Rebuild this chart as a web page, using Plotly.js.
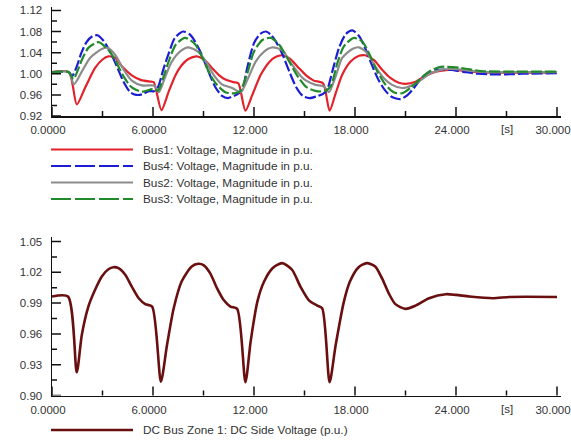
<!DOCTYPE html>
<html>
<head>
<meta charset="utf-8">
<script src="https://cdn.plot.ly/plotly-3.0.1.min.js"></script>
<style>html,body{margin:0;padding:0;background:#fff;}#chart{width:571px;height:442px;}</style>
</head>
<body>
<div id="chart"></div>
<script>
// ---------- data ----------
const xTickVals = [0, 6, 12, 18, 24, 30];
const xTickText = ['0.0000', '6.0000', '12.000', '18.000', '24.000', '30.000'];
const xMinorVals = [3, 9, 15, 21, 27];
const unitLabel = '[s]';
const yTopTicks = [0.92, 0.96, 1.00, 1.04, 1.08, 1.12];
const yTopMinor = [0.94, 0.98, 1.02, 1.06, 1.10];
const yBotTicks = [0.90, 0.93, 0.96, 0.99, 1.02, 1.05];
const yBotMinor = [0.915, 0.945, 0.975, 1.005, 1.035];

const namesTop = ['Bus1: Voltage, Magnitude in p.u.', 'Bus4: Voltage, Magnitude in p.u.',
                  'Bus2: Voltage, Magnitude in p.u.', 'Bus3: Voltage, Magnitude in p.u.'];
const nameDC = 'DC Bus Zone 1: DC Side Voltage (p.u.)';

const tBus1 = [0,1.0,1.47,1.96,2.56,3.0,3.35,3.75,4.15,4.74,5.3,5.9,6.05,6.5,6.93,7.35,7.7,8.1,8.6,9.1,9.5,9.9,10.3,10.8,11.07,11.49,11.9,12.4,12.9,13.3,13.7,14.15,14.6,15.06,15.55,16.1,16.49,16.85,17.24,17.74,18.24,18.6,19.13,19.6,20.1,20.6,21.0,21.6,22.2,22.8,23.4,23.9,24.9,25.9,27.5,30];
const vBus1 = [1.003,1.003,0.942,0.973,1.011,1.027,1.033,1.030,1.014,0.997,0.988,0.985,0.984,0.931,0.966,0.998,1.016,1.028,1.033,1.025,1.011,0.998,0.989,0.984,0.982,0.930,0.960,0.998,1.022,1.032,1.035,1.028,1.013,0.998,0.987,0.982,0.930,0.963,0.998,1.023,1.034,1.035,1.026,1.008,0.992,0.983,0.981,0.985,0.996,1.004,1.007,1.0075,1.004,1.002,1.002,1.002];

const tBus4 = [0,1.0,1.2,1.45,1.75,2.05,2.4,2.7,3.05,3.45,3.85,4.25,4.65,5.0,5.35,5.75,6.05,6.3,6.6,6.95,7.3,7.8,8.2,8.5,8.9,9.3,9.7,10.1,10.45,10.8,11.05,11.3,11.6,12.0,12.35,12.7,13.0,13.3,13.7,14.1,14.5,14.9,15.3,15.7,16.1,16.35,16.65,17.05,17.45,17.85,18.25,18.65,19.0,19.4,19.8,20.2,20.7,21.1,21.5,21.9,22.3,22.8,23.3,24.0,24.6,25.3,26.0,27.0,28.0,30];
const vBus4 = [1.003,1.003,0.996,1.012,1.040,1.060,1.071,1.073,1.063,1.042,1.014,0.985,0.965,0.960,0.961,0.967,0.967,0.975,1.007,1.040,1.068,1.080,1.074,1.061,1.036,1.004,0.975,0.958,0.954,0.958,0.962,0.969,1.012,1.058,1.075,1.080,1.074,1.061,1.036,1.004,0.975,0.958,0.954,0.957,0.962,0.970,1.004,1.049,1.075,1.082,1.071,1.045,1.017,0.988,0.968,0.956,0.952,0.959,0.973,0.990,1.001,1.007,1.008,1.006,1.003,1.000,0.999,0.999,1.000,1.001];

const tBus2 = [0,1.0,1.3,1.77,2.26,2.96,3.3,3.75,4.25,4.74,5.34,5.93,6.1,6.35,6.7,7.1,7.6,8.1,8.7,9.2,9.6,10.1,10.7,11.2,11.6,12.1,12.6,13.1,13.7,14.2,14.8,15.1,15.65,16.15,16.45,16.85,17.24,17.84,18.24,18.73,19.2,19.7,20.2,20.8,21.4,21.9,22.5,23.1,23.6,24.3,25.0,26,27.5,30];
const vBus2 = [1.003,1.003,0.980,1.004,1.030,1.047,1.049,1.036,1.008,0.987,0.978,0.978,0.977,0.965,0.992,1.022,1.042,1.050,1.041,1.020,0.998,0.980,0.973,0.965,0.988,1.023,1.042,1.050,1.044,1.020,0.995,0.987,0.979,0.976,0.965,0.995,1.030,1.047,1.050,1.039,1.014,0.992,0.979,0.973,0.978,0.988,1.001,1.0075,1.009,1.008,1.005,1.003,1.003,1.003];

const tBus3 = [0,1.0,1.27,1.5,1.77,2.16,2.76,3.35,3.75,4.25,4.74,5.34,5.93,6.05,6.3,6.6,6.95,7.35,7.9,8.5,9.0,9.4,9.8,10.3,10.8,11.15,11.6,12.0,12.5,13.0,13.5,13.97,14.6,15.1,15.65,16.2,16.55,16.95,17.34,17.94,18.43,18.83,19.33,19.82,20.3,20.8,21.3,21.8,22.4,23.1,24.3,25.5,27.5,30];
const vBus3 = [1.003,1.003,0.990,1.004,1.026,1.049,1.060,1.045,1.026,0.995,0.974,0.966,0.971,0.971,0.968,0.992,1.025,1.055,1.068,1.056,1.026,0.998,0.979,0.965,0.963,0.966,1.001,1.042,1.064,1.068,1.055,1.030,0.995,0.975,0.9675,0.967,0.976,1.020,1.052,1.068,1.061,1.039,1.004,0.979,0.965,0.963,0.973,0.988,1.004,1.013,1.011,1.005,1.004,1.004];

const tDC = [0,0.95,1.47,1.77,2.16,2.56,2.96,3.35,3.65,3.95,4.35,4.74,5.14,5.54,5.95,6.47,6.83,7.23,7.7,8.3,8.7,9.0,9.4,9.8,10.2,10.6,11.0,11.49,11.8,12.2,12.6,13.1,13.67,14.26,14.76,15.25,15.75,16.05,16.49,16.85,17.34,17.7,18.2,18.7,19.2,19.6,20.0,20.4,21.0,21.6,22.4,23.4,24.0,24.8,26.2,27.2,30];
const vDC = [0.9964,0.9964,0.9226,0.959,0.9866,1.003,1.016,1.023,1.025,1.024,1.0176,1.006,0.995,0.989,0.9866,0.9135,0.949,0.985,1.011,1.0257,1.0283,1.027,1.019,1.0046,0.993,0.9866,0.9844,0.9129,0.9525,0.9915,1.011,1.024,1.029,1.0225,1.006,0.993,0.9876,0.985,0.9129,0.949,0.9915,1.011,1.0247,1.029,1.0257,1.0143,0.9997,0.989,0.9844,0.9876,0.9948,0.9987,0.998,0.9964,0.9948,0.996,0.996];

// ---------- styling ----------
const W = 571, H = 442;
const px = v => v / W, py = v => 1 - v / H;
const colTop = ['#e3212a', '#1c1cd4', '#8c8c8c', '#218a2a'];
const dashTop = ['solid', '11px,3px', 'solid', '11px,3px'];
const dashLeg = ['solid', '20px,4px', 'solid', '20px,4px'];
const colDC = '#6a0f10';
const axCol = '#111';
const txtCol = '#333';
const tickFont = 11.5, legFont = 11.8;

const topX = [tBus1, tBus4, tBus2, tBus3];
const topY = [vBus1, vBus4, vBus2, vBus3];

const traces = [];
for (let i = 0; i < 4; i++) {
  traces.push({
    x: topX[i], y: topY[i], name: namesTop[i], type: 'scatter', mode: 'lines',
    xaxis: 'x', yaxis: 'y', hoverinfo: 'skip',
    line: {color: colTop[i], width: 2.2, dash: dashTop[i], shape: 'spline', smoothing: 0.7}
  });
}
traces.push({
  x: tDC, y: vDC, name: nameDC, type: 'scatter', mode: 'lines', xaxis: 'x2', yaxis: 'y2', hoverinfo: 'skip',
  line: {color: colDC, width: 2.6, shape: 'spline', smoothing: 0.7}
});

const xDom = [px(52), px(52 + 505 * 30.25 / 30)];
const xCommon = {
  range: [0, 30.25], domain: xDom, tickmode: 'array', tickvals: xTickVals, ticktext: xTickText,
  ticks: '', showline: true, linecolor: axCol, linewidth: 1.5, showgrid: false, zeroline: false,
  ticklabelstandoff: 3, ticklabelshift: -4, ticklabeloverflow: 'allow', fixedrange: true,
  tickfont: {size: tickFont, color: txtCol}
};
const yCommon = {
  tickmode: 'array', ticks: '', showline: true, linecolor: axCol, linewidth: 1.5, showgrid: false, zeroline: false,
  ticklabelstandoff: 6, fixedrange: true, tickfont: {size: tickFont, color: txtCol}
};

const layout = {
  width: W, height: H, margin: {l: 0, r: 0, t: 0, b: 0},
  paper_bgcolor: '#fff', plot_bgcolor: '#fff', showlegend: false,
  font: {family: '"Liberation Sans", Arial, sans-serif', size: 11, color: txtCol},
  xaxis: Object.assign({}, xCommon, {anchor: 'y'}),
  yaxis: Object.assign({}, yCommon, {domain: [py(116), py(6.7)], range: [0.92, 1.127], anchor: 'x',
    tickvals: yTopTicks, ticktext: yTopTicks.map(v => v.toFixed(2))}),
  xaxis2: Object.assign({}, xCommon, {anchor: 'y2'}),
  yaxis2: Object.assign({}, yCommon, {domain: [py(395.5), py(236.7)], range: [0.90, 1.0547], anchor: 'x2',
    tickvals: yBotTicks, ticktext: yBotTicks.map(v => v.toFixed(2))}),
  shapes: [], annotations: []
};

// inside tick marks, positioned through the axes' own scales
function xTicks(xr, yr, vals, len) {
  vals.forEach(v => layout.shapes.push({type: 'line', xref: xr, yref: yr + ' domain', x0: v, x1: v,
    ysizemode: 'pixel', yanchor: 0, y0: 0, y1: len, line: {color: axCol, width: 1.5}}));
}
function yTicks(xr, yr, vals, len) {
  vals.forEach(v => layout.shapes.push({type: 'line', xref: xr + ' domain', yref: yr, y0: v, y1: v,
    xsizemode: 'pixel', xanchor: 0, x0: 0, x1: len, line: {color: axCol, width: 1.5}}));
}
xTicks('x', 'y', xTickVals, 9);  xTicks('x', 'y', xMinorVals, 5);
xTicks('x2', 'y2', xTickVals, 9); xTicks('x2', 'y2', xMinorVals, 5);
yTicks('x', 'y', yTopTicks, 9);  yTicks('x', 'y', yTopMinor, 5);
yTicks('x2', 'y2', yBotTicks, 9); yTicks('x2', 'y2', yBotMinor, 5);

// unit labels "[s]" under the tick at 27 s
[['x', 128.5], ['x2', 408.5]].forEach(([xr, yy]) => {
  layout.annotations.push({xref: xr, yref: 'paper', x: 27, y: py(yy), text: unitLabel,
    showarrow: false, xanchor: 'center', yanchor: 'middle', xshift: 0, font: {size: tickFont, color: txtCol}});
});

// legends (line samples + real text)
const legRowsTop = [149.5, 166, 182.5, 199];
for (let i = 0; i < 4; i++) {
  layout.shapes.push({type: 'line', xref: 'paper', yref: 'paper', x0: px(51), x1: px(133),
    y0: py(legRowsTop[i]), y1: py(legRowsTop[i]), line: {color: colTop[i], width: 2.2, dash: dashLeg[i]}});
  layout.annotations.push({xref: 'paper', yref: 'paper', x: px(141), y: py(legRowsTop[i]),
    text: namesTop[i], showarrow: false, xanchor: 'left', yanchor: 'middle', font: {size: legFont, color: txtCol}});
}
layout.shapes.push({type: 'line', xref: 'paper', yref: 'paper', x0: px(51), x1: px(133),
  y0: py(430), y1: py(430), line: {color: colDC, width: 2.6}});
layout.annotations.push({xref: 'paper', yref: 'paper', x: px(141), y: py(430), text: nameDC,
  showarrow: false, xanchor: 'left', yanchor: 'middle', font: {size: legFont, color: txtCol}});

Plotly.newPlot('chart', traces, layout, {displayModeBar: false, staticPlot: true});
</script>
</body>
</html>
